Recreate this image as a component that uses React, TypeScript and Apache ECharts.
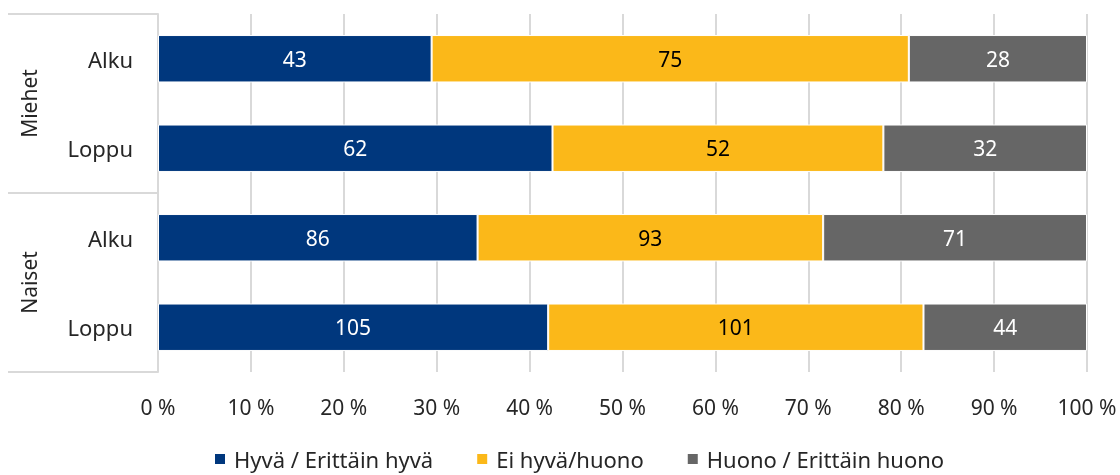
import React, { useEffect, useRef } from "react";
import * as echarts from "echarts";

const groups = ["Miehet", "Naiset"];
const categories = ["Alku", "Loppu", "Alku", "Loppu"];
const seriesNames = ["Hyvä / Erittäin hyvä", "Ei hyvä/huono", "Huono / Erittäin huono"];
const good = [43, 62, 86, 105];
const neutral = [75, 52, 93, 101];
const bad = [28, 32, 71, 44];
const xTicks = [0, 10, 20, 30, 40, 50, 60, 70, 80, 90, 100];
const colors = ["#00377D", "#FBB819", "#666666"];
const labelColors = ["#ffffff", "#000000", "#ffffff"];

export default function App() {
  const ref = useRef<HTMLDivElement>(null);
  useEffect(() => {
    if (!ref.current) return;
    const chart = echarts.init(ref.current, null, { renderer: "svg" });
    const all = [good, neutral, bad];
    const totals = categories.map((_, i) => good[i] + neutral[i] + bad[i]);
    const font = "'Noto Sans', sans-serif";
    chart.setOption({
      animation: false,
      textStyle: { fontFamily: font },
      grid: { left: 158, right: 33, top: 14, bottom: 103 },
      legend: {
        bottom: 0,
        left: 208,
        itemWidth: 12,
        itemHeight: 12,
        itemGap: 42,
        icon: "rect",
        textStyle: { fontSize: 22, color: "#262626", fontFamily: font, padding: [0, 0, 0, 3] },
        data: seriesNames,
      },
      xAxis: {
        type: "value",
        min: xTicks[0],
        max: xTicks[xTicks.length - 1],
        interval: 10,
        axisLine: { show: false },
        axisTick: { show: false },
        splitLine: { lineStyle: { color: "#d9d9d9", width: 2 } },
        axisLabel: { formatter: "{value} %", fontSize: 21, color: "#262626", margin: 24, fontFamily: font },
      },
      yAxis: [
        {
          type: "category",
          inverse: true,
          data: categories,
          axisLine: { show: true, lineStyle: { color: "#d9d9d9", width: 2 } },
          axisTick: { show: false },
          axisLabel: { fontSize: 22, color: "#262626", margin: 25, fontFamily: font },
        },
        {
          type: "category",
          inverse: true,
          position: "left",
          data: groups,
          axisLine: { show: false },
          axisTick: { show: true, length: 150, interval: 0, lineStyle: { color: "#d9d9d9", width: 2 } },
          axisLabel: { rotate: 90, fontSize: 21, color: "#262626", margin: 119, fontFamily: font },
        },
      ],
      series: seriesNames.map((name, s) => ({
        name,
        type: "bar",
        stack: "total",
        yAxisIndex: 0,
        barCategoryGap: "47%",
        itemStyle: { color: colors[s], borderColor: "#ffffff", borderWidth: 1 },
        label: {
          show: true,
          position: "inside",
          fontSize: 21,
          color: labelColors[s],
          fontFamily: font,
          formatter: (p: any) => String(all[s][p.dataIndex]),
        },
        data: all[s].map((v, i) => (v / totals[i]) * 100),
      })),
    });
    return () => chart.dispose();
  }, []);
  return <div ref={ref} style={{ position: "fixed", left: 0, top: 0, width: 1120, height: 475 }} />;
}
